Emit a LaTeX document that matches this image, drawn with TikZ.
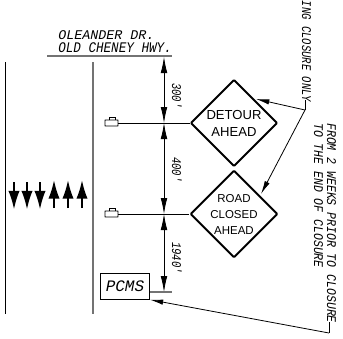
\documentclass[tikz,border=0pt]{standalone}
\usepackage{fontspec}
\setmainfont{Liberation Sans}
\newfontfamily\cadfont{Liberation Mono}
\newfontfamily\notefont[FakeStretch=.86]{Liberation Mono}
\newfontfamily\onlyfont[FakeStretch=.79]{Liberation Mono}
\usetikzlibrary{arrows.meta,shapes.geometric}
\tikzset{
  edgeline/.style={line width=.75pt},
  grayline/.style={line width=1.1pt,black!55},
  dimline/.style={line width=.6pt,{Latex[length=12pt,width=5pt]}-{Latex[length=12pt,width=5pt]}},
  leader/.style={line width=.6pt,-{Latex[length=10pt,width=4pt]}},
  traffic/.style={line width=1.5pt,-{Latex[length=14pt,width=8.5pt]}},
  signbox/.style={draw,line width=1.4pt,rounded corners=.5pt,diamond,shape aspect=1,inner sep=0pt,
    minimum width=65pt,minimum height=65pt,align=center},
  cadtext/.style={font=\cadfont\itshape\fontsize{10}{11}\selectfont,inner sep=0pt},
  notetext/.style={font=\notefont\itshape\fontsize{10}{11}\selectfont,inner sep=0pt,rotate=-90,anchor=base west},
  dimtext/.style={notetext,font=\onlyfont\itshape\fontsize{10}{11}\selectfont}
}
\begin{document}
\begin{tikzpicture}[x=.75pt,y=-.75pt]
\useasboundingbox (0,0) rectangle (343,339);

% street at the top
\coordinate (tl) at (47,56);
\coordinate (tr) at (172,56);
\draw[grayline] (tl) -- (tr);
\node[cadtext,anchor=base west] (oleander) at (58,39) {OLEANDER DR.};
\node[cadtext,anchor=base west,font=\notefont\itshape\fontsize{11}{11}\selectfont] (cheney) at (58,52) {OLD CHENEY HWY.};

% road
\coordinate (ea) at (5,62);
\coordinate (eb) at (5,314);
\coordinate (ec) at (93,62);
\coordinate (ed) at (93,314);
\draw[edgeline] (ea) -- (eb);
\draw[grayline] (ec) -- (ed);

% traffic
\foreach \x in {14,27,40}
  \draw[traffic] (\x,182) -- (\x,209.5);
\foreach \x in {54,68,82}
  \draw[traffic] (\x,208) -- (\x,180);

% signs
\node[signbox,font=\fontsize{9.8}{12.8}\selectfont] (detour) at (234,123) {DETOUR\\AHEAD};
\node[signbox,font=\fontsize{8.6}{12}\selectfont] (road) at (234,214) {ROAD\\CLOSED\\AHEAD};
\node[draw,line width=.8pt,minimum width=36.5pt,minimum height=19pt,inner sep=0pt,
  font=\cadfont\itshape\fontsize{12}{12}\selectfont] (pcms) at (125,286.5) {PCMS};

% posts
\foreach \y/\n in {123/detour,214/road} {
  \draw[line width=.7pt,fill=white,rounded corners=.3pt] (105,\y-3) rectangle (118,\y+3);
  \draw[line width=.7pt] (109,\y-3) -- (109,\y-5.5) -- (115,\y-5.5) -- (115,\y-3);
  \draw[line width=.6pt] (118,\y) -- (\n.west);
}

% dimensions
\coordinate (d0) at (164,57);
\coordinate (d1) at (164,123);
\coordinate (d2) at (164,214);
\coordinate (d3) at (164,292);
\draw[dimline] (d0) -- (d1);
\draw[dimline] (d1) -- (d2);
\draw[dimline] (d2) -- (d3);
\draw[grayline] (pcms.east |- d3) -- (172,292);
\node[dimtext] (dima) at (172,83) {300'};
\node[dimtext] (dimb) at (172,157) {400'};
\node[dimtext] (dimc) at (172,242) {1940'};

% notes
\node[dimtext] (during) at (302,.6) {ING CLOSURE ONLY};
\node[notetext] (from) at (327,123) {FROM 2 WEEKS PRIOR TO CLOSURE};
\node[notetext] (tothe) at (314,123) {TO THE END OF CLOSURE};

\coordinate (ka) at (305,100);
\coordinate (kb) at (305,110);
\coordinate (kc) at (329,322);
\coordinate (kd) at (329,333);
\draw[line width=.6pt] (ka) -- (kb);
\draw[line width=.6pt] (kc) -- (kd);
\draw[leader] (kb) -- (256,99);
\draw[leader] (kb) -- (261,194);
\draw[leader] (kd) -- (pcms.south east);
\end{tikzpicture}
\end{document}
